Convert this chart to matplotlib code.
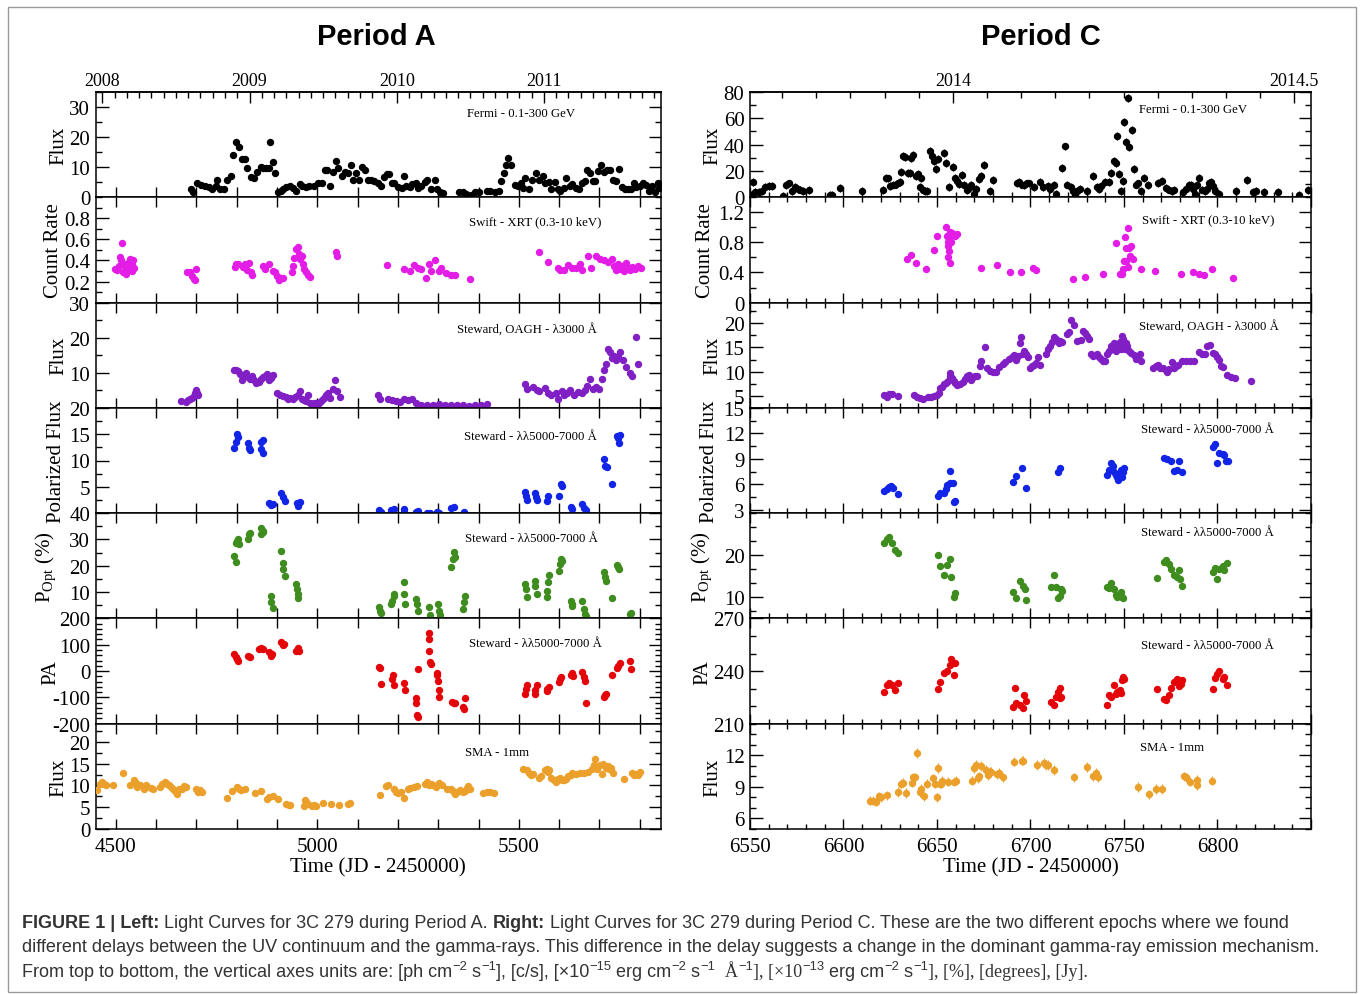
import numpy as np
import matplotlib
matplotlib.use("Agg")
import matplotlib.pyplot as plt
from matplotlib.ticker import MultipleLocator, FixedLocator, FuncFormatter
from matplotlib.transforms import IdentityTransform
import matplotlib.patches as mpatches

plt.rcParams['font.family'] = ['Liberation Serif', 'DejaVu Serif']
plt.rcParams['mathtext.fontset'] = 'custom'
plt.rcParams['mathtext.rm'] = 'Liberation Serif'
plt.rcParams['mathtext.it'] = 'Liberation Serif:italic'
plt.rcParams['axes.unicode_minus'] = False

# ---------------- Period A (JD - 2450000) ----------------
fermi_a_jd = [4686, 4691, 4701, 4711, 4721, 4731, 4739, 4749, 4751, 4759, 4769, 4776, 4786, 4791, 4799,
              4806, 4814, 4821, 4826, 4836, 4843, 4851, 4859, 4866, 4873, 4879, 4883, 4891, 4896, 4903,
              4909, 4916, 4923, 4931, 4939, 4946, 4956, 4963, 4971, 4979, 4991, 5001, 5011, 5019, 5023,
              5031, 5039, 5046, 5051, 5061, 5069, 5076, 5084, 5089, 5096, 5104, 5111, 5118, 5126, 5133,
              5141, 5151, 5159, 5166, 5173, 5179, 5186, 5191, 5201, 5209, 5214, 5221, 5229, 5236, 5244,
              5251, 5258, 5266, 5273, 5283, 5291, 5296, 5304, 5311, 5351, 5361, 5369, 5381, 5391, 5401,
              5421, 5429, 5441, 5451, 5456, 5463, 5469, 5474, 5481, 5491, 5499, 5506, 5511, 5516, 5526,
              5533, 5543, 5551, 5559, 5566, 5574, 5581, 5589, 5596, 5603, 5611, 5616, 5626, 5633, 5641,
              5649, 5656, 5663, 5669, 5676, 5683, 5689, 5696, 5704, 5711, 5719, 5726, 5733, 5741, 5749,
              5756, 5763, 5771, 5778, 5786, 5791, 5801, 5808, 5816, 5823, 5831, 5839, 5846, 5849]
fermi_a_flux = [2.6, 1.7, 4.6, 4.2, 3.9, 3.3, 2.8, 3.9, 5.9, 2.9, 2.9, 5.7, 7.0, 14.2, 18.3,
                16.7, 12.6, 12.8, 9.8, 6.8, 6.4, 8.3, 10.1, 9.8, 9.6, 9.8, 18.3, 11.7, 8.1, 1.7,
                2.2, 2.8, 3.3, 3.7, 3.1, 2.2, 4.4, 3.9, 3.3, 3.9, 3.7, 4.6, 4.8, 9.2, 9.2,
                3.9, 8.4, 12.2, 9.8, 7.2, 8.3, 8.1, 10.6, 5.6, 8.1, 5.9, 10.0, 9.2, 5.9, 5.6,
                5.3, 4.8, 3.7, 6.8, 7.6, 7.6, 4.8, 4.8, 3.3, 3.1, 7.0, 3.9, 3.3, 4.4, 4.8,
                3.1, 3.9, 5.0, 5.7, 2.6, 5.9, 2.8, 1.7, 1.4, 1.7, 1.7, 1.1, 0.9, 1.7, 1.7,
                2.2, 2.2, 1.7, 2.2, 5.3, 8.1, 10.6, 13.1, 10.6, 4.2, 3.9, 4.8, 3.1, 6.4, 2.8,
                5.6, 8.1, 5.9, 7.0, 4.8, 5.0, 2.8, 5.0, 2.6, 2.0, 3.1, 6.4, 3.9, 4.4, 3.1,
                2.8, 4.8, 5.3, 9.2, 8.1, 5.3, 5.3, 8.7, 10.6, 8.3, 9.2, 9.2, 5.7, 5.3, 9.4,
                3.3, 2.8, 2.6, 2.8, 4.8, 3.3, 3.9, 4.8, 4.2, 2.0, 3.9, 1.7, 4.8, 3.1]

swift_a_jd = [4498, 4503, 4508, 4511, 4514, 4516, 4518, 4521, 4524, 4526, 4529, 4531, 4534, 4536, 4539,
              4541, 4543, 4546, 4676, 4683, 4689, 4693, 4696, 4699, 4796, 4799, 4803, 4816, 4821, 4826,
              4831, 4836, 4839, 4866, 4869, 4881, 4889, 4896, 4901, 4906, 4911, 4916, 4936, 4939, 4943,
              4947, 4951, 4954, 4957, 4961, 4964, 4967, 4971, 4976, 4981, 5046, 5048, 5173, 5216, 5229,
              5241, 5251, 5258, 5269, 5276, 5283, 5291, 5301, 5306, 5319, 5331, 5341, 5379, 5551, 5573,
              5596, 5601, 5613, 5621, 5631, 5641, 5651, 5656, 5671, 5679, 5691, 5701, 5711, 5721, 5731,
              5736, 5741, 5746, 5751, 5756, 5761, 5766, 5771, 5776, 5781, 5789, 5796, 5803]
swift_a_rate = [0.32, 0.31, 0.35, 0.43, 0.40, 0.565, 0.29, 0.37, 0.33, 0.27, 0.38, 0.32, 0.41, 0.35, 0.37,
                0.30, 0.40, 0.33, 0.29, 0.29, 0.25, 0.22, 0.21, 0.32, 0.34, 0.37, 0.37, 0.34, 0.37, 0.31,
                0.38, 0.29, 0.26, 0.35, 0.32, 0.37, 0.30, 0.29, 0.25, 0.21, 0.23, 0.23, 0.29, 0.35, 0.42,
                0.51, 0.53, 0.46, 0.41, 0.44, 0.37, 0.32, 0.29, 0.26, 0.24, 0.48, 0.44, 0.36, 0.32, 0.30,
                0.36, 0.33, 0.32, 0.23, 0.37, 0.30, 0.40, 0.30, 0.33, 0.28, 0.26, 0.26, 0.22, 0.48, 0.39,
                0.33, 0.31, 0.31, 0.36, 0.33, 0.33, 0.37, 0.31, 0.44, 0.33, 0.44, 0.41, 0.40, 0.39, 0.41,
                0.35, 0.31, 0.37, 0.32, 0.35, 0.30, 0.38, 0.33, 0.31, 0.34, 0.32, 0.35, 0.33]

uv_a_jd = [4661, 4673, 4679, 4684, 4689, 4694, 4697, 4699, 4701, 4703,
           4794, 4799, 4804, 4809, 4814, 4819, 4824, 4829, 4834, 4839, 4844, 4849, 4854, 4859, 4864,
           4869, 4874, 4881, 4886, 4891, 4901, 4908, 4914, 4921, 4927, 4933, 4939, 4945, 4951, 4956,
           4961, 4966, 4971, 4976, 4981, 4986, 4991, 4996, 5001, 5006, 5011, 5016, 5021, 5026, 5031,
           5039, 5044, 5049, 5056, 5151, 5156, 5176, 5186, 5196, 5206, 5216, 5226, 5236, 5246, 5256,
           5271, 5286, 5301, 5316, 5331, 5346, 5361, 5376, 5391, 5406, 5421, 5516, 5521, 5536, 5546,
           5551, 5566, 5573, 5581, 5591, 5596, 5606, 5611, 5619, 5626, 5636, 5646, 5656, 5663, 5669,
           5676, 5683, 5691, 5699, 5706, 5711, 5716, 5721, 5726, 5731, 5736, 5741, 5746, 5751, 5759,
           5766, 5776, 5781, 5791, 5796]
uv_a_flux = [2.0, 1.7, 2.2, 2.5, 2.8, 3.3, 4.1, 5.0, 4.3, 3.6,
             10.9, 10.7, 10.4, 9.7, 8.0, 9.4, 10.0, 8.8, 8.3, 9.1, 7.8, 7.2, 7.5, 8.3, 8.8,
             9.2, 9.7, 7.8, 8.5, 9.4, 4.2, 3.8, 3.4, 3.1, 2.6, 2.8, 2.5, 3.2, 3.6, 4.7,
             2.6, 2.2, 1.9, 3.6, 1.5, 1.2, 1.4, 1.5, 1.2, 1.7, 2.2, 2.8, 3.6, 4.1, 2.8,
             5.5, 7.8, 4.7, 3.1, 3.6, 2.6, 2.6, 2.2, 1.9, 1.7, 2.6, 2.2, 2.6, 1.5, 0.9,
             0.9, 0.7, 1.2, 0.9, 0.7, 0.9, 0.7, 0.6, 0.7, 0.7, 1.2, 6.9, 5.5, 5.9, 5.0,
             4.7, 5.7, 4.3, 3.6, 4.1, 2.4, 4.7, 3.6, 4.3, 5.0, 3.6, 4.5, 4.1, 5.0, 6.2,
             8.3, 5.5, 5.9, 5.5, 8.3, 10.9, 12.5, 16.8, 15.8, 14.2, 14.9, 13.5, 14.4, 15.8, 13.5,
             11.6, 10.0, 9.2, 20.3, 12.5]

pol_a_jd = [4794, 4798, 4801, 4804, 4829, 4831, 4834, 4859, 4861, 4864, 4866, 4881, 4886, 4889, 4911,
            4914, 4919, 4949, 4953, 4956, 5154, 5159, 5184, 5189, 5214, 5216, 5246, 5249, 5273, 5279,
            5296, 5301, 5331, 5339, 5363, 5516, 5518, 5521, 5539, 5543, 5546, 5569, 5573, 5599, 5604,
            5607, 5629, 5633, 5656, 5661, 5666, 5711, 5714, 5718, 5731, 5743, 5746, 5749, 5751]
pol_a_flux = [12.4, 13.5, 15.1, 14.5, 13.4, 12.4, 11.9, 13.5, 12.2, 11.5, 13.8, 2.0, 1.5, 1.8, 3.8,
              3.1, 2.3, 1.9, 1.3, 2.1, 0.6, 0.3, 0.6, 0.7, 0.8, 0.3, 0.3, 0.5, 0.1, 0.0,
              0.2, 0.1, 1.0, 1.2, 0.3, 4.0, 3.3, 2.5, 3.8, 3.1, 2.5, 2.3, 3.3, 3.3, 5.5,
              5.2, 1.2, 0.8, 1.7, 1.0, 0.6, 10.2, 9.0, 8.7, 5.5, 14.7, 14.2, 13.4, 14.8]

popt_a_jd = [4794, 4797, 4799, 4801, 4803, 4805, 4829, 4831, 4833, 4859, 4861, 4864, 4866, 4884, 4886,
             4889, 4911, 4914, 4916, 4919, 4947, 4949, 4951, 4953, 5154, 5156, 5159, 5184, 5186, 5189,
             5191, 5214, 5216, 5217, 5246, 5248, 5249, 5276, 5279, 5299, 5301, 5304, 5331, 5336, 5339,
             5341, 5361, 5364, 5366, 5516, 5518, 5521, 5539, 5541, 5544, 5569, 5571, 5573, 5576, 5599,
             5601, 5604, 5606, 5629, 5631, 5633, 5656, 5661, 5664, 5666, 5711, 5714, 5716, 5731, 5744,
             5746, 5749, 5776, 5779]
popt_a_pct = [23.9, 21.4, 28.7, 29.4, 30.0, 28.1, 30.3, 32.2, 32.5, 32.2, 34.3, 33.4, 33.0, 8.5, 6.2,
              4.1, 25.6, 21.1, 18.9, 16.3, 13.2, 11.3, 9.4, 7.7, 4.3, 3.0, 2.2, 5.6, 6.8, 8.7,
              9.4, 13.8, 9.4, 5.3, 7.5, 5.6, 3.0, 4.3, 1.4, 5.3, 3.0, 1.4, 19.5, 22.7, 25.4,
              23.3, 3.7, 6.2, 8.5, 13.2, 11.3, 8.1, 14.1, 12.5, 9.4, 8.1, 10.6, 13.8, 16.6, 18.2,
              20.8, 22.7, 22.0, 6.8, 5.6, 4.7, 6.8, 3.7, 1.8, 0.9, 17.6, 15.7, 14.4, 7.7, 20.4,
              19.5, 18.9, 1.8, 2.2]

pa_a_jd = [4794, 4798, 4801, 4804, 4829, 4833, 4856, 4861, 4866, 4881, 4884, 4888, 4911, 4914, 4918,
           4948, 4951, 4954, 5154, 5156, 5158, 5186, 5188, 5190, 5214, 5217, 5244, 5246, 5248, 5250,
           5251, 5276, 5277, 5278, 5279, 5281, 5296, 5298, 5299, 5301, 5303, 5334, 5338, 5341, 5361,
           5364, 5366, 5516, 5518, 5521, 5539, 5541, 5544, 5569, 5571, 5574, 5599, 5601, 5604, 5629,
           5631, 5634, 5656, 5661, 5663, 5666, 5711, 5714, 5717, 5731, 5744, 5747, 5750, 5776, 5779]
pa_a_deg = [65, 53, 44, 39, 59, 53, 84, 87, 82, 72, 59, 64, 109, 99, 104,
            78, 87, 75, 16, 11, -48, -29, -16, -52, -44, -73, -101, -121, -167, -176,
            9, 143, 120, 78, 34, 26, -6, -14, -38, -73, -99, -117, -121, -123, -136,
            -145, -104, -86, -67, -54, -86, -73, -54, -75, -67, -60, -42, -31, -23, -16,
            -6, -19, -4, -23, -39, -120, -98, -92, -88, -14, 11, 21, 31, 38, 9]

sma_a_jd = [4454, 4461, 4466, 4471, 4476, 4494, 4518, 4536, 4544, 4549, 4553, 4559, 4571, 4574, 4586,
            4591, 4609, 4614, 4621, 4626, 4631, 4636, 4641, 4646, 4651, 4656, 4663, 4669, 4673, 4699,
            4704, 4709, 4713, 4776, 4789, 4801, 4806, 4811, 4821, 4846, 4861, 4874, 4879, 4891, 4903,
            4923, 4929, 4933, 4966, 4969, 4973, 4976, 4986, 4991, 4996, 5014, 5034, 5053, 5076, 5081,
            5156, 5171, 5176, 5189, 5196, 5201, 5208, 5214, 5226, 5231, 5239, 5248, 5266, 5273, 5278,
            5281, 5286, 5294, 5301, 5309, 5321, 5331, 5336, 5341, 5346, 5354, 5361, 5366, 5371, 5374,
            5379, 5411, 5421, 5429, 5438, 5511, 5521, 5526, 5531, 5536, 5551, 5556, 5566, 5569, 5573,
            5576, 5581, 5586, 5591, 5596, 5601, 5606, 5611, 5616, 5621, 5629, 5633, 5641, 5651, 5661,
            5671, 5681, 5686, 5689, 5694, 5701, 5706, 5709, 5716, 5721, 5724, 5729, 5733, 5761, 5781,
            5786, 5791, 5796, 5801]
sma_a_jy = [9.0, 10.4, 10.8, 10.4, 10.2, 10.0, 12.8, 10.0, 11.2, 10.6, 9.6, 10.0, 9.2, 10.2, 9.4,
            9.2, 9.6, 10.4, 10.9, 10.4, 10.0, 9.6, 9.2, 8.8, 8.1, 9.2, 9.1, 9.8, 9.6, 9.1,
            8.6, 9.0, 8.6, 7.2, 8.7, 9.6, 9.1, 9.0, 9.1, 8.3, 8.8, 6.9, 7.3, 7.5, 6.8,
            5.8, 5.6, 5.5, 5.2, 6.7, 6.2, 5.8, 5.4, 5.6, 5.2, 5.9, 5.8, 5.5, 5.8, 6.0,
            7.8, 9.8, 10.0, 9.1, 8.6, 8.3, 8.5, 7.2, 9.1, 9.4, 9.6, 9.8, 10.4, 10.8, 10.0,
            10.4, 10.0, 9.6, 10.5, 10.2, 9.2, 9.1, 8.8, 8.1, 8.5, 9.0, 8.5, 8.8, 9.5, 9.8,
            9.2, 8.3, 8.5, 8.5, 8.3, 13.7, 13.5, 12.9, 12.3, 12.7, 11.7, 12.2, 13.5, 13.8, 13.1,
            13.5, 11.7, 11.2, 10.9, 11.5, 11.7, 11.2, 11.3, 11.5, 12.2, 12.5, 12.9, 12.7, 12.9, 12.9,
            13.2, 13.8, 14.6, 16.2, 13.8, 14.6, 12.7, 15.0, 14.0, 14.4, 13.7, 14.0, 12.9, 11.5, 12.9,
            12.5, 12.7, 12.3, 13.1]

# ---------------- Period C (JD - 2450000) ----------------
fermi_c_jd = [6550.4, 6551.5, 6552.6, 6554.8, 6556.5, 6558.1, 6560.2, 6561.8, 6567.9, 6569.4, 6570.7,
              6572.2, 6574.0, 6575.5, 6576.6, 6578.3, 6581.6, 6592.9, 6594.0, 6597.9, 6609.7, 6621.3,
              6622.8, 6623.9, 6625.0, 6626.3, 6627.8, 6628.9, 6630.0, 6630.6, 6631.7, 6632.8, 6634.3,
              6635.4, 6636.1, 6637.2, 6638.7, 6639.8, 6640.9, 6641.5, 6642.4, 6643.5, 6644.8, 6646.3,
              6647.4, 6648.5, 6649.6, 6650.7, 6653.9, 6654.6, 6656.6, 6658.3, 6659.4, 6660.5, 6661.6,
              6663.3, 6664.4, 6665.9, 6667.0, 6668.1, 6669.6, 6670.9, 6672.5, 6673.5, 6675.1, 6678.6,
              6680.1, 6692.7, 6693.8, 6695.3, 6696.4, 6698.2, 6699.3, 6701.9, 6705.1, 6706.9, 6709.1,
              6710.6, 6712.3, 6713.4, 6717.1, 6718.2, 6719.3, 6721.5, 6722.6, 6723.7, 6724.8, 6726.5,
              6730.2, 6733.5, 6735.6, 6736.7, 6737.8, 6739.6, 6742.2, 6743.3, 6744.4, 6745.5, 6746.1,
              6747.2, 6748.3, 6749.2, 6750.2, 6750.9, 6752.0, 6752.6, 6754.2, 6755.3, 6756.4, 6757.4,
              6759.2, 6760.7, 6762.9, 6768.3, 6770.5, 6772.3, 6773.8, 6775.5, 6777.0, 6781.4, 6783.1,
              6784.7, 6785.8, 6786.9, 6787.9, 6789.0, 6790.1, 6791.9, 6793.4, 6794.5, 6795.6, 6796.7,
              6797.7, 6798.8, 6800.6, 6809.7, 6815.8, 6819.1, 6820.6, 6825.0, 6832.6, 6843.5, 6848.5]
fermi_c_flux = [2.0, 11.5, 4.1, 4.1, 4.6, 7.7, 8.4, 8.4, 0.8, 9.5, 10.5,
                5.1, 7.7, 6.4, 5.9, 5.1, 5.4, 2.0, 1.5, 7.2, 4.6, 5.4,
                14.8, 14.3, 8.4, 9.7, 9.7, 10.5, 11.8, 19.4, 31.5, 30.7, 18.2,
                18.2, 29.7, 32.0, 16.1, 17.9, 7.7, 14.3, 5.9, 5.1, 4.6, 35.3,
                31.5, 27.6, 21.2, 28.9, 33.5, 25.8, 7.7, 23.0, 14.8, 12.3, 10.2,
                16.6, 9.7, 5.4, 7.2, 9.0, 2.6, 6.4, 14.1, 16.1, 24.3, 4.6,
                13.0, 10.5, 11.5, 9.7, 9.0, 10.5, 10.5, 7.7, 11.8, 7.7, 8.4,
                6.4, 9.0, 2.8, 22.5, 38.6, 9.7, 7.7, 4.6, 2.0, 5.1, 6.4,
                4.6, 16.1, 7.9, 6.4, 8.4, 11.8, 11.8, 18.7, 27.6, 26.3, 46.3,
                17.4, 5.1, 12.3, 57.5, 41.7, 75.7, 37.9, 51.4, 21.2, 9.7, 10.5,
                5.1, 14.8, 9.0, 11.0, 12.3, 7.2, 5.9, 5.1, 5.9, 3.8, 6.4,
                9.0, 9.7, 6.4, 2.6, 9.0, 14.8, 5.9, 5.1, 6.4, 11.0, 11.5,
                8.4, 5.1, 2.6, 4.6, 13.0, 3.8, 5.1, 4.1, 3.8, 2.0, 5.4]

swift_c_jd = [6633.9, 6636.1, 6638.7, 6644.1, 6648.5, 6650.2, 6655.0, 6655.5, 6655.7, 6655.9, 6656.1,
              6656.3, 6656.6, 6656.8, 6657.2, 6657.6, 6658.1, 6659.4, 6660.5, 6673.5, 6682.3, 6689.2,
              6694.9, 6701.4, 6703.0, 6722.6, 6729.1, 6738.9, 6745.5, 6747.6, 6748.7, 6749.2, 6749.8,
              6750.5, 6750.9, 6751.3, 6752.0, 6752.2, 6752.6, 6753.1, 6753.5, 6754.8, 6759.2, 6766.6,
              6780.3, 6786.9, 6790.1, 6792.7, 6797.3, 6808.2]
swift_c_rate = [0.585, 0.635, 0.52, 0.44, 0.70, 0.89, 1.0, 0.88, 0.81, 0.755, 0.60,
                0.69, 0.845, 0.94, 0.53, 0.81, 0.93, 0.89, 0.91, 0.465, 0.50, 0.41,
                0.41, 0.465, 0.43, 0.32, 0.34, 0.375, 0.79, 0.375, 0.375, 0.44, 0.555,
                0.87, 0.555, 0.73, 0.47, 0.99, 0.73, 0.62, 0.75, 0.585, 0.44, 0.42,
                0.385, 0.40, 0.375, 0.37, 0.45, 0.33]

uv_c_jd = [6621.9, 6623.0, 6624.5, 6626.0, 6628.9, 6637.6, 6639.3, 6640.9, 6642.4, 6645.2, 6647.0,
           6648.5, 6650.0, 6651.1, 6651.8, 6652.8, 6653.9, 6655.0, 6656.1, 6656.8, 6657.2, 6657.9,
           6658.9, 6659.8, 6660.9, 6662.2, 6663.7, 6664.8, 6665.9, 6667.0, 6668.1, 6669.2, 6670.3,
           6671.4, 6673.1, 6673.5, 6675.7, 6676.8, 6678.6, 6680.1, 6681.8, 6683.4, 6685.1, 6686.6,
           6688.4, 6689.9, 6691.0, 6692.1, 6693.2, 6694.3, 6694.9, 6696.0, 6696.4, 6697.5, 6698.6,
           6699.7, 6700.8, 6701.9, 6703.0, 6704.1, 6705.1, 6708.4, 6709.5, 6710.6, 6711.7, 6712.8,
           6713.9, 6715.0, 6716.0, 6717.1, 6719.3, 6720.4, 6721.5, 6723.0, 6724.8, 6726.9, 6728.0,
           6729.1, 6730.2, 6731.3, 6732.4, 6733.5, 6735.6, 6736.7, 6737.8, 6738.9, 6740.0, 6741.1,
           6742.2, 6743.3, 6743.9, 6744.4, 6745.0, 6745.5, 6746.1, 6746.5, 6747.2, 6747.6, 6748.3,
           6748.7, 6749.4, 6749.8, 6750.5, 6750.9, 6751.6, 6752.6, 6753.7, 6755.3, 6756.4, 6758.5,
           6759.2, 6765.7, 6767.2, 6768.3, 6769.4, 6770.7, 6772.3, 6772.9, 6774.2, 6775.7, 6776.8,
           6777.9, 6779.0, 6781.2, 6782.9, 6785.5, 6787.3, 6789.9, 6791.6, 6793.1, 6794.2, 6796.0,
           6797.5, 6798.6, 6799.7, 6800.8, 6801.9, 6803.0, 6805.1, 6807.3, 6809.5, 6817.8]
uv_c_flux = [5.1, 4.8, 5.3, 5.4, 5.0, 5.2, 4.8, 4.6, 4.3, 4.8, 4.8,
             5.0, 5.1, 5.5, 6.7, 6.9, 7.4, 7.7, 8.1, 9.1, 9.7, 8.6,
             8.1, 7.7, 7.2, 7.4, 7.9, 8.4, 9.1, 9.4, 8.3, 8.8, 9.1,
             9.0, 11.2, 12.3, 15.1, 10.8, 10.1, 9.9, 9.9, 11.0, 11.5, 12.0,
             12.7, 13.1, 13.4, 12.5, 13.2, 16.0, 17.2, 13.6, 14.3, 13.6, 13.1,
             10.8, 11.2, 11.3, 11.7, 13.1, 11.3, 13.7, 14.6, 15.3, 16.2, 17.2,
             16.7, 16.0, 16.3, 16.2, 17.7, 18.3, 20.7, 19.6, 16.3, 16.5, 18.4,
             18.1, 17.4, 16.7, 13.6, 13.2, 13.7, 13.1, 12.7, 12.2, 12.2, 13.6,
             14.3, 15.3, 14.6, 16.0, 15.0, 14.3, 15.6, 14.7, 15.3, 16.1, 14.6,
             17.4, 16.7, 15.4, 14.6, 16.0, 15.3, 14.3, 13.9, 13.4, 12.7, 13.6,
             12.2, 10.8, 11.2, 11.3, 10.8, 10.7, 10.3, 9.9, 10.5, 12.0, 10.8,
             11.2, 11.3, 12.3, 12.3, 12.2, 12.3, 14.1, 13.6, 13.6, 15.4, 15.6,
             13.9, 13.6, 13.1, 12.5, 11.2, 11.0, 9.4, 8.8, 8.6, 8.1]

pol_c_jd = [6621.9, 6623.0, 6624.5, 6625.6, 6626.3, 6628.9, 6650.7, 6651.8, 6653.9, 6654.6, 6655.5,
            6656.8, 6657.2, 6658.3, 6659.0, 6659.8, 6690.5, 6692.1, 6695.3, 6697.5, 6714.5, 6715.6,
            6741.1, 6742.2, 6743.3, 6743.9, 6744.4, 6745.5, 6746.1, 6747.0, 6747.6, 6748.3, 6748.7,
            6749.4, 6749.8, 6771.6, 6773.1, 6774.9, 6777.0, 6778.1, 6779.2, 6781.0, 6797.7, 6798.8,
            6799.9, 6801.0, 6802.7, 6803.6, 6804.3, 6805.4]
pol_c_flux = [5.2, 5.4, 5.7, 5.8, 5.6, 4.8, 4.6, 5.0, 5.0, 5.4, 5.9,
              7.6, 6.1, 6.2, 3.9, 4.0, 6.3, 7.0, 7.9, 5.6, 7.4, 7.9,
              7.1, 7.7, 8.5, 8.1, 7.4, 7.1, 6.8, 6.5, 7.3, 7.7, 6.9,
              7.4, 7.9, 9.1, 9.0, 8.8, 7.6, 7.7, 8.8, 7.4, 10.4, 10.8,
              8.5, 9.7, 9.6, 9.5, 8.7, 8.7]

popt_c_jd = [6621.9, 6623.0, 6624.5, 6626.0, 6627.4, 6628.9, 6650.7, 6651.8, 6653.9, 6655.5, 6656.8,
             6657.6, 6659.0, 6659.8, 6690.5, 6692.1, 6694.3, 6695.8, 6696.9, 6697.5, 6711.2, 6712.8,
             6713.4, 6714.5, 6715.6, 6716.5, 6716.7, 6741.1, 6742.2, 6743.3, 6744.4, 6745.5, 6746.5,
             6747.6, 6748.3, 6748.7, 6749.4, 6767.9, 6771.6, 6772.7, 6773.8, 6774.9, 6777.0, 6778.1,
             6779.2, 6779.9, 6781.0, 6797.7, 6798.8, 6799.9, 6801.0, 6802.7, 6803.6, 6804.9]
popt_c_pct = [23.0, 23.8, 24.4, 23.0, 21.2, 20.6, 20.0, 17.4, 15.2, 17.8, 19.2,
              14.8, 10.2, 11.0, 11.2, 9.8, 13.8, 12.6, 12.0, 9.4, 12.4, 15.2,
              12.4, 9.8, 10.4, 12.0, 11.4, 12.4, 12.2, 13.4, 12.0, 10.6, 10.2,
              10.4, 11.2, 10.0, 9.8, 14.6, 18.4, 18.8, 18.0, 16.8, 15.2, 14.8,
              16.4, 14.4, 12.8, 16.0, 17.0, 14.4, 16.8, 17.4, 16.4, 18.2]

pa_c_jd = [6621.9, 6623.0, 6624.5, 6626.0, 6627.4, 6628.9, 6650.7, 6651.8, 6653.9, 6655.5, 6656.8,
           6657.6, 6659.0, 6659.8, 6690.5, 6691.6, 6692.5, 6694.3, 6695.8, 6696.4, 6697.5, 6711.2,
           6712.3, 6713.4, 6714.5, 6715.6, 6716.0, 6716.5, 6741.1, 6742.2, 6743.3, 6744.4, 6745.5,
           6746.5, 6747.6, 6748.3, 6748.7, 6749.4, 6749.8, 6767.9, 6771.6, 6772.7, 6773.8, 6774.9,
           6777.0, 6778.1, 6779.2, 6780.3, 6781.0, 6797.7, 6798.8, 6799.9, 6801.0, 6802.7, 6803.6,
           6804.9]
pa_c_deg = [228.1, 231.9, 233.4, 231.9, 229.0, 233.2, 230.0, 233.8, 239.1, 240.0, 243.6,
            246.6, 237.9, 244.7, 219.5, 230.5, 222.0, 220.5, 219.2, 226.2, 222.8, 222.4,
            220.5, 225.2, 228.1, 230.5, 224.7, 225.2, 220.5, 226.2, 225.2, 231.9, 227.1,
            228.1, 229.0, 227.7, 234.7, 236.6, 235.6, 230.0, 224.3, 223.3, 226.2, 230.3,
            233.8, 235.6, 231.3, 232.8, 234.7, 230.0, 236.0, 238.5, 239.8, 235.6, 236.6,
            232.2]

sma_c_jd = [6614.3, 6615.8, 6617.3, 6619.1, 6620.2, 6623.0, 6628.9, 6630.6, 6631.7, 6633.2, 6636.5,
            6637.2, 6638.2, 6639.1, 6640.9, 6641.5, 6643.0, 6644.8, 6648.1, 6649.1, 6650.0, 6650.7,
            6651.8, 6652.4, 6652.8, 6655.7, 6659.0, 6660.0, 6668.8, 6669.8, 6670.9, 6672.0, 6672.5,
            6673.5, 6676.4, 6677.5, 6678.3, 6679.0, 6682.3, 6682.9, 6685.5, 6691.4, 6695.3, 6696.0,
            6703.6, 6707.3, 6708.4, 6709.5, 6712.3, 6723.2, 6730.2, 6733.5, 6735.2, 6736.3, 6757.4,
            6763.3, 6767.2, 6770.1, 6782.1, 6783.1, 6785.1, 6789.0, 6789.2, 6797.1]
sma_c_jy = [7.7, 7.7, 7.6, 8.1, 8.0, 8.2, 8.5, 9.3, 9.4, 8.4, 9.4,
            9.9, 9.9, 12.2, 8.5, 8.8, 8.1, 9.3, 9.8, 9.3, 8.0, 10.8,
            9.3, 9.3, 9.6, 9.5, 9.5, 9.6, 9.6, 10.8, 11.1, 9.8, 10.0,
            11.0, 10.6, 10.1, 10.4, 10.4, 10.2, 10.3, 9.9, 11.4, 11.5, 11.5,
            11.1, 11.3, 11.1, 11.1, 10.6, 9.9, 10.9, 10.0, 10.3, 9.9, 9.0,
            8.3, 8.8, 8.8, 10.0, 9.9, 9.5, 9.7, 9.2, 9.6]

# typical error bars per series
ERR = dict(fermi_a=0.8, swift_a=0.02, uv_a=0.3, pol_a=0.4, popt_a=0.5, pa_a=3, sma_a=0.6,
           fermi_c=3.0, swift_c=0.03, uv_c=0.3, pol_c=0.35, popt_c=0.4, pa_c=1, sma_c=0.45)

C_BLACK, C_MAG, C_PUR, C_BLUE = 'black', '#e31ce6', '#7f1fc4', '#1224e6'
C_GREEN, C_RED, C_ORANGE = '#3f8c1f', '#e3050a', '#eca02c'

W, H = 1360, 995
fig = plt.figure(figsize=(W / 100, H / 100), dpi=100)
edges = np.linspace(93, 830, 8)


def fmt_g(v, p):
    return f"{v:g}"


def build_column(x0, x1, xlim, panels, xmajor, xminor, xlabels_every, xlabel_max, years, yr_minor,
                 yr0, jd0, notes):
    def xfmt(v, pos):
        on_grid = abs(v / xlabels_every - round(v / xlabels_every)) < 1e-6
        return f"{v:g}" if on_grid and v <= xlabel_max else ""

    axes = []
    for i, p in enumerate(panels):
        y0, y1 = edges[i], edges[i + 1]
        ax = fig.add_axes([x0 / W, 1 - y1 / H, (x1 - x0) / W, (y1 - y0) / H])
        ax.errorbar(p['x'], p['y'], yerr=p['err'], fmt='o', ms=4.3, color=p['c'], mec=p['c'],
                    elinewidth=0.9, capsize=0, zorder=3)
        ax.set_xlim(*xlim)
        ax.set_ylim(*p['ylim'])
        ax.yaxis.set_major_locator(FixedLocator(p['ticks']))
        ax.yaxis.set_minor_locator(MultipleLocator(p['minor']))
        ax.yaxis.set_major_formatter(FuncFormatter(fmt_g))
        ax.xaxis.set_major_locator(MultipleLocator(xmajor))
        if xminor:
            ax.xaxis.set_minor_locator(MultipleLocator(xminor))
        ax.xaxis.set_major_formatter(FuncFormatter(xfmt))
        ax.tick_params(axis='y', which='major', direction='in', length=9, width=1.0,
                       left=True, right=True, labelsize=15, pad=4)
        ax.tick_params(axis='y', which='minor', direction='in', length=4.5, width=1.0,
                       left=True, right=True)
        ax.tick_params(axis='x', which='major', direction='in', length=7, width=1.0,
                       bottom=True, top=(i > 0), labelsize=15, pad=6,
                       labelbottom=(i == len(panels) - 1))
        ax.tick_params(axis='x', which='minor', direction='in', length=3.5, width=1.0,
                       bottom=True, top=(i > 0))
        for s in ax.spines.values():
            s.set_linewidth(1.1)
        ax.set_ylabel(p['label'], fontsize=15)
        ax.yaxis.label.set_va('center')
        ax.yaxis.set_label_coords(-p['lab_off'] / (x1 - x0), 0.5)
        nx, ny = notes[i]
        ax.text(nx, ny, p['note'], transform=ax.transAxes, fontsize=9.2, ha='center', va='center')
        axes.append(ax)

    top = axes[0]
    sec = top.secondary_xaxis('top', functions=(lambda x: yr0 + (x - jd0) / 365.25,
                                                lambda y: jd0 + (y - yr0) * 365.25))
    sec.xaxis.set_major_locator(FixedLocator(years))
    sec.xaxis.set_minor_locator(MultipleLocator(yr_minor))
    sec.xaxis.set_major_formatter(FuncFormatter(fmt_g))
    sec.tick_params(which='major', direction='in', length=8, width=1.0, labelsize=13, pad=2)
    sec.tick_params(which='minor', direction='in', length=4, width=1.0)
    sec.spines['top'].set_linewidth(1.1)
    axes[-1].set_xlabel('Time (JD - 2450000)', fontsize=15, labelpad=1)
    return axes


panels_a = [
    dict(x=fermi_a_jd, y=fermi_a_flux, err=ERR['fermi_a'], c=C_BLACK, ylim=(0, 35), ticks=[0, 10, 20, 30],
         minor=5, label='Flux', lab_off=37, note='Fermi - 0.1-300 GeV'),
    dict(x=swift_a_jd, y=swift_a_rate, err=ERR['swift_a'], c=C_MAG, ylim=(0, 1.0), ticks=[0.2, 0.4, 0.6, 0.8],
         minor=0.1, label='Count Rate', lab_off=42, note='Swift - XRT (0.3-10 keV)'),
    dict(x=uv_a_jd, y=uv_a_flux, err=ERR['uv_a'], c=C_PUR, ylim=(0, 30), ticks=[10, 20, 30],
         minor=5, label='Flux', lab_off=37, note='Steward, OAGH - λ3000 Å'),
    dict(x=pol_a_jd, y=pol_a_flux, err=ERR['pol_a'], c=C_BLUE, ylim=(0, 20), ticks=[5, 10, 15, 20],
         minor=2.5, label='Polarized Flux', lab_off=39, note='Steward - λλ5000-7000 Å'),
    dict(x=popt_a_jd, y=popt_a_pct, err=ERR['popt_a'], c=C_GREEN, ylim=(0, 40), ticks=[10, 20, 30, 40],
         minor=5, label=r'P$_{\rm Opt}$ (%)', lab_off=50, note='Steward - λλ5000-7000 Å'),
    dict(x=pa_a_jd, y=pa_a_deg, err=ERR['pa_a'], c=C_RED, ylim=(-200, 200), ticks=[-200, -100, 0, 100, 200],
         minor=20, label='PA', lab_off=45, note='Steward - λλ5000-7000 Å'),
    dict(x=sma_a_jd, y=sma_a_jy, err=ERR['sma_a'], c=C_ORANGE, ylim=(0, 24.2), ticks=[0, 5, 10, 15, 20],
         minor=2.5, label='Flux', lab_off=37, note='SMA - 1mm'),
]
notes_a = [(0.753, 0.80), (0.778, 0.77), (0.763, 0.75), (0.769, 0.73), (0.771, 0.76), (0.778, 0.77),
           (0.710, 0.73)]

panels_c = [
    dict(x=fermi_c_jd, y=fermi_c_flux, err=ERR['fermi_c'], c=C_BLACK, ylim=(0, 80), ticks=[0, 20, 40, 60, 80],
         minor=10, label='Flux', lab_off=37, note='Fermi - 0.1-300 GeV'),
    dict(x=swift_c_jd, y=swift_c_rate, err=ERR['swift_c'], c=C_MAG, ylim=(0, 1.4), ticks=[0, 0.4, 0.8, 1.2],
         minor=0.2, label='Count Rate', lab_off=44, note='Swift - XRT (0.3-10 keV)'),
    dict(x=uv_c_jd, y=uv_c_flux, err=ERR['uv_c'], c=C_PUR, ylim=(2.5, 24.3), ticks=[5, 10, 15, 20],
         minor=2.5, label='Flux', lab_off=37, note='Steward, OAGH - λ3000 Å'),
    dict(x=pol_c_jd, y=pol_c_flux, err=ERR['pol_c'], c=C_BLUE, ylim=(2.6, 15), ticks=[3, 6, 9, 12, 15],
         minor=1.5, label='Polarized Flux', lab_off=40, note='Steward - λλ5000-7000 Å'),
    dict(x=popt_c_jd, y=popt_c_pct, err=ERR['popt_c'], c=C_GREEN, ylim=(5, 30), ticks=[10, 20],
         minor=10 / 3, label=r'P$_{\rm Opt}$ (%)', lab_off=48, note='Steward - λλ5000-7000 Å'),
    dict(x=pa_c_jd, y=pa_c_deg, err=ERR['pa_c'], c=C_RED, ylim=(210, 270), ticks=[210, 240, 270],
         minor=10, label='PA', lab_off=47, note='Steward - λλ5000-7000 Å'),
    dict(x=sma_c_jd, y=sma_c_jy, err=ERR['sma_c'], c=C_ORANGE, ylim=(5, 15), ticks=[6, 9, 12],
         minor=1, label='Flux', lab_off=37, note='SMA - 1mm'),
]
notes_c = [(0.79, 0.84), (0.816, 0.79), (0.818, 0.78), (0.815, 0.80), (0.815, 0.82), (0.815, 0.75),
           (0.752, 0.78)]

build_column(95.7, 660.7, (4450, 5852), panels_a, 100, None, 500, 5800, [2008, 2009, 2010, 2011], 1 / 12,
             2008, 4466.5, notes_a)
build_column(750, 1311, (6550, 6850), panels_c, 50, 10, 50, 6800, [2014, 2014.5], 0.05,
             2014, 6658.5, notes_c)

fig.text(376 / W, 1 - 37 / H, 'Period A', fontsize=21, fontweight='bold', family=['Liberation Sans'],
         ha='center', va='center')
fig.text(1041 / W, 1 - 37 / H, 'Period C', fontsize=21, fontweight='bold', family=['Liberation Sans'],
         ha='center', va='center')

# outer frame
fig.patches.append(mpatches.Rectangle((8, H - 993), 1348, 985, transform=IdentityTransform(),
                                      fill=False, edgecolor='#9a9a9a', linewidth=1.0))

# caption
CAP = ['Liberation Sans Narrow', 'Liberation Sans']
CAP_SIZE = 13
CAP_COL = '#333333'
renderer = fig.canvas.get_renderer()


def caption_line(x, y, segs):
    for text, kw in segs:
        kw = dict(kw)
        rise = kw.pop('rise', 0)
        size = kw.pop('size', CAP_SIZE)
        fam = kw.pop('family', CAP)
        t = fig.text(x, H - y + rise, text, transform=IdentityTransform(), ha='left', va='baseline',
                     fontsize=size, family=fam, color=CAP_COL, **kw)
        x += t.get_window_extent(renderer).width


B = dict(fontweight='bold')
N = dict()
SUP = dict(size=CAP_SIZE * 0.72, rise=7)
SER = dict(family=['Liberation Serif'])
caption_line(22, 928, [('FIGURE 1 | Left:', B), (' Light Curves for 3C 279 during Period A. ', N), ('Right:', B),
                       (' Light Curves for 3C 279 during Period C. These are the two different epochs where we found', N)])
caption_line(22, 952, [('different delays between the UV continuum and the gamma-rays. This difference in the delay '
                        'suggests a change in the dominant gamma-ray emission mechanism.', N)])
caption_line(22, 977, [('From top to bottom, the vertical axes units are: [ph cm', N), ('\u22122', SUP), (' s', N),
                       ('\u22121', SUP), ('], [c/s], [\u00d710', N), ('\u221215', SUP), (' erg cm', N),
                       ('\u22122', SUP), (' s', N), ('\u22121', SUP), ('  ', N), ('Å', SER), ('\u22121', SUP),
                       ('], [\u00d710', SER), ('\u221213', SUP), (' erg cm', N), ('\u22122', SUP), (' s', N),
                       ('\u22121', SUP), ('], [%], [degrees], [Jy].', SER)])

fig.savefig('out.png', dpi=100)
